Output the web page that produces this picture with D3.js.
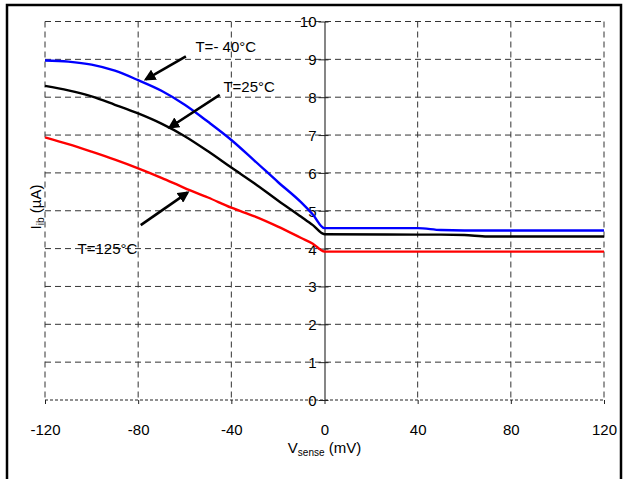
<!DOCTYPE html>
<html>
<head>
<meta charset="UTF-8">
<script src="https://d3js.org/d3.v7.min.js"></script>
<style>
  body { margin: 0; background: #fff; }
  svg { display: block; font-family: "Liberation Sans", Arial, sans-serif; }
</style>
</head>
<body>
<svg id="chart"></svg>
<script>
const width = 623, height = 479;

// data
const xTicks = [-120, -80, -40, 0, 40, 80, 120];
const yTicks = [0, 1, 2, 3, 4, 5, 6, 7, 8, 9, 10];

const vsense = [-120, -110, -100, -90, -80, -70, -60, -50, -40, -30, -20, -10, -5, 0, 40, 50, 60, 70, 120];
const ibCold = [8.97, 8.94, 8.86, 8.7, 8.45, 8.17, 7.8, 7.35, 6.87, 6.32, 5.76, 5.22, 4.9, 4.54, 4.54, 4.49, 4.48, 4.48, 4.48];
const ibRoom = [8.3, 8.18, 8.02, 7.8, 7.57, 7.3, 6.97, 6.57, 6.14, 5.72, 5.27, 4.84, 4.62, 4.38, 4.37, 4.37, 4.36, 4.32, 4.32];
const ibHot  = [6.94, 6.76, 6.56, 6.35, 6.12, 5.87, 5.6, 5.35, 5.08, 4.85, 4.58, 4.28, 4.13, 3.92, 3.92, 3.92, 3.92, 3.92, 3.92];

const series = [
  { name: "T=- 40°C", values: ibCold, color: "#0000ff" },
  { name: "T=25°C",   values: ibRoom, color: "#000000" },
  { name: "T=125°C",  values: ibHot,  color: "#ff0000" }
];

// label position (data coords) and arrow from/to (data coords)
const notes = [
  { text: "T=- 40°C", at: [-55.4, 9.19], from: [-59.5, 9.08], to: [-76.7, 8.47] },
  { text: "T=25°C",   at: [-43.4, 8.14], from: [-45, 8.06], to: [-66.5, 7.2] },
  { text: "T=125°C",  at: [-106, 3.86], from: [-78.9, 4.62], to: [-58.8, 5.48] }
];

const svg = d3.select("#chart").attr("width", width).attr("height", height);

const x = d3.scaleLinear().domain([-120, 120]).range([45, 604]);
const y = d3.scaleLinear().domain([0, 10]).range([400, 21.5]);

// outer frame
svg.append("path")
   .attr("d", `M7,${height} L7,5 L621,5 L621,${height}`)
   .attr("fill", "none").attr("stroke", "#000").attr("stroke-width", 2.5);

// grid
const grid = svg.append("g").attr("stroke", "#333").attr("stroke-width", 1)
                .attr("stroke-dasharray", "6,4").attr("fill", "none");
grid.selectAll(".h").data(yTicks.filter(d => d > 0)).join("line")
    .attr("x1", x(-120)).attr("x2", x(120))
    .attr("y1", d => y(d)).attr("y2", d => y(d));
grid.selectAll(".v").data(xTicks.filter(d => d !== 0)).join("line")
    .attr("x1", d => x(d)).attr("x2", d => x(d))
    .attr("y1", y(10)).attr("y2", y(0));

// x axis line (dotted look)
svg.append("line")
   .attr("x1", x(-120)).attr("x2", x(120)).attr("y1", y(0)).attr("y2", y(0))
   .attr("stroke", "#222").attr("stroke-width", 1.2).attr("stroke-dasharray", "3,2");

// x ticks + labels
const xAxis = d3.axisBottom(x).tickValues(xTicks).tickSize(4).tickPadding(20)
    .tickFormat(d => String(d));
svg.append("g")
   .attr("transform", `translate(0,${y(0)})`)
   .call(xAxis)
   .call(g => g.select(".domain").remove())
   .call(g => g.selectAll("line").attr("stroke", "#222"))
   .call(g => g.selectAll("text").attr("font-size", 15).attr("fill", "#000")
                .attr("font-family", "Liberation Sans, Arial, sans-serif"));

// y axis at x = 0
const yAxis = d3.axisLeft(y).tickValues(yTicks).tickSizeInner(6).tickSizeOuter(0).tickPadding(2)
    .tickFormat(d => String(d));
svg.append("g")
   .attr("transform", `translate(${x(0)},0)`)
   .call(yAxis)
   .call(g => g.select(".domain").attr("stroke", "#444").attr("stroke-width", 1.3))
   .call(g => g.selectAll(".tick line").attr("x1", 4).attr("stroke", "#222"))
   .call(g => g.selectAll("text").attr("font-size", 15).attr("fill", "#000")
                .attr("dy", "0.36em")
                .attr("font-family", "Liberation Sans, Arial, sans-serif"));

// curves
const line = d3.line()
    .x((d, i) => x(vsense[i]))
    .y(d => y(d))
    .curve(d3.curveMonotoneX);

svg.selectAll(".curve").data(series).join("path")
   .attr("class", "curve")
   .attr("d", d => line(d.values))
   .attr("fill", "none")
   .attr("stroke", d => d.color)
   .attr("stroke-width", 2.4);

// arrows
svg.append("defs").append("marker")
   .attr("id", "arrow")
   .attr("viewBox", "0 0 10 10")
   .attr("refX", 8).attr("refY", 5)
   .attr("markerWidth", 4.5).attr("markerHeight", 4.5)
   .attr("markerUnits", "strokeWidth")
   .attr("orient", "auto")
   .append("path").attr("d", "M0,0 L10,5 L0,10 Z").attr("fill", "#000");

svg.selectAll(".arrow").data(notes).join("line")
   .attr("x1", d => x(d.from[0])).attr("y1", d => y(d.from[1]))
   .attr("x2", d => x(d.to[0])).attr("y2", d => y(d.to[1]))
   .attr("stroke", "#000").attr("stroke-width", 2.6)
   .attr("marker-end", "url(#arrow)");

svg.selectAll(".note").data(notes).join("text")
   .attr("x", d => x(d.at[0])).attr("y", d => y(d.at[1]))
   .attr("font-size", 15)
   .text(d => d.text);

// axis titles
const xt = svg.append("text")
   .attr("x", x(0)).attr("y", 453)
   .attr("text-anchor", "middle").attr("font-size", 15);
xt.append("tspan").text("V");
xt.append("tspan").attr("font-size", 10).attr("dy", 3).text("sense");
xt.append("tspan").attr("dy", -3).text(" (mV)");

const yt = svg.append("text")
   .attr("transform", "translate(41,207) rotate(-90)")
   .attr("text-anchor", "middle").attr("font-size", 15);
yt.append("tspan").text("I");
yt.append("tspan").attr("font-size", 10).attr("dy", 3).text("ib");
yt.append("tspan").attr("dy", -3).text(" (µA)");
</script>
</body>
</html>
